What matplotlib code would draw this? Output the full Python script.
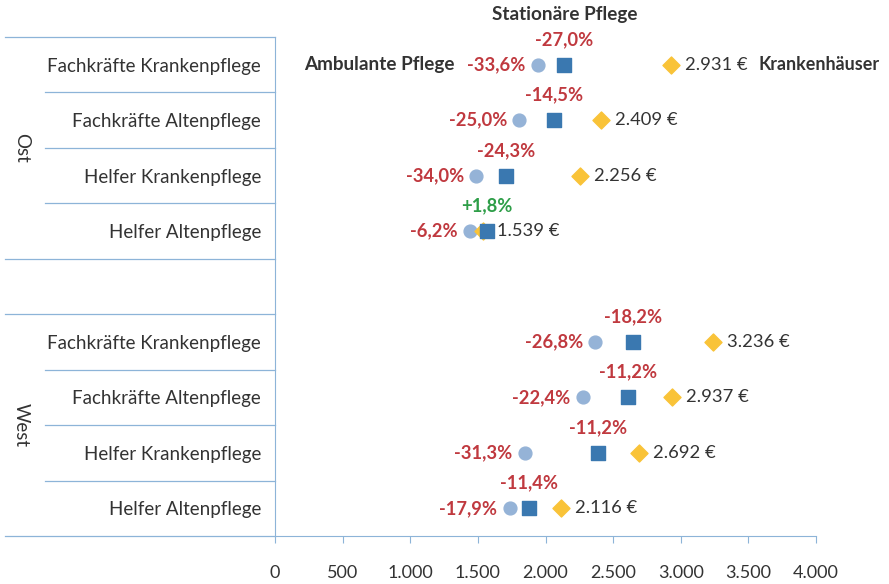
import numpy as np
import matplotlib
matplotlib.use("Agg")
import matplotlib.pyplot as plt
from matplotlib.transforms import blended_transform_factory

plt.rcParams["font.family"] = ["Lato", "DejaVu Sans"]

# Daten (Ost oben, West unten)
kategorien = ["Fachkräfte Krankenpflege", "Fachkräfte Altenpflege",
              "Helfer Krankenpflege", "Helfer Altenpflege"]
gruppen = ["Ost", "West"]
krankenhaus = [2931, 2409, 2256, 1539, 3236, 2937, 2692, 2116]
stationaer = [2140, 2060, 1708, 1567, 2647, 2608, 2390, 1875]
ambulant = [1946, 1807, 1489, 1444, 2369, 2279, 1849, 1737]
pct_stationaer = ["-27,0%", "-14,5%", "-24,3%", "+1,8%",
                  "-18,2%", "-11,2%", "-11,2%", "-11,4%"]
pct_ambulant = ["-33,6%", "-25,0%", "-34,0%", "-6,2%",
                "-26,8%", "-22,4%", "-31,3%", "-17,9%"]
xticks = [0, 500, 1000, 1500, 2000, 2500, 3000, 3500, 4000]
xticklabels = ["0", "500", "1.000", "1.500", "2.000", "2.500", "3.000", "3.500", "4.000"]

c_amb = "#95B3D7"
c_sta = "#3A78B0"
c_kh = "#F9C338"
c_rot = "#C0393F"
c_gruen = "#2E9E48"
c_text = "#333333"
c_linie = "#8DB4D8"

# Zeilenpositionen: 0-3 Ost, 4 leer, 5-8 West
ypos = [0, 1, 2, 3, 5, 6, 7, 8]

fig = plt.figure(figsize=(8.89, 5.84), dpi=100)
ax = fig.add_axes([275 / 889, 48 / 584, 541 / 889, 499 / 584])

ax.scatter(ambulant, ypos, s=85, color=c_amb, marker="o", zorder=3)
ax.scatter(krankenhaus, ypos, s=75, color=c_kh, marker="D", zorder=3)
ax.scatter(stationaer, ypos, s=100, color=c_sta, marker="s", zorder=4)

fs = 13.2
for i, y in enumerate(ypos):
    farbe = c_gruen if pct_stationaer[i].startswith("+") else c_rot
    ax.annotate(pct_stationaer[i], (stationaer[i], y), xytext=(0, 12),
                textcoords="offset points", ha="center", va="bottom",
                fontsize=fs, fontweight="bold", color=farbe)
    ax.annotate(pct_ambulant[i], (ambulant[i], y), xytext=(-9, 0),
                textcoords="offset points", ha="right", va="center",
                fontsize=fs, fontweight="bold", color=c_rot)
    wert = f"{krankenhaus[i]:,}".replace(",", ".") + " €"
    ax.annotate(wert, (krankenhaus[i], y), xytext=(10, 0),
                textcoords="offset points", ha="left", va="center",
                fontsize=fs, color=c_text)

# Serienbeschriftungen
ax.annotate("Ambulante Pflege", (ambulant[0], ypos[0]), xytext=(-60, 0),
            textcoords="offset points", ha="right", va="center",
            fontsize=13.6, fontweight="bold", color=c_text)
ax.annotate("Krankenhäuser", (krankenhaus[0], ypos[0]), xytext=(63, 0),
            textcoords="offset points", ha="left", va="center",
            fontsize=12.9, fontweight="bold", color=c_text)
ax.annotate("Stationäre Pflege", (stationaer[0], ypos[0]), xytext=(0, 30),
            textcoords="offset points", ha="center", va="bottom",
            fontsize=13.6, fontweight="bold", color=c_text)

ax.set_xlim(0, 4000)
ax.set_ylim(8.5, -0.5)
ax.set_xticks(xticks)
ax.set_xticklabels(xticklabels, fontsize=13, color=c_text)
ax.tick_params(axis="x", direction="out", length=5, pad=16, color=c_linie)
ax.set_yticks(ypos)
ax.set_yticklabels(kategorien * 2, fontsize=13.5, color=c_text)
ax.tick_params(axis="y", length=0, pad=10)

for s in ["top", "right"]:
    ax.spines[s].set_visible(False)
ax.spines["left"].set_color(c_linie)
ax.spines["bottom"].set_color(c_linie)

# Trennlinien im Beschriftungsbereich
trans = blended_transform_factory(ax.transAxes, ax.transData)
x_aussen = (5 - 275) / 541
x_innen = (45 - 275) / 541
grenzen = [-0.5, 0.5, 1.5, 2.5, 3.5, 4.5, 5.5, 6.5, 7.5, 8.5]
for g in grenzen:
    x0 = x_aussen if g in (-0.5, 3.5, 4.5, 8.5) else x_innen
    ax.plot([x0, 0], [g, g], transform=trans, color=c_linie, lw=0.9, clip_on=False)

ax.text(x_aussen + 0.03, 1.5, gruppen[0], transform=trans, rotation=270,
        ha="center", va="center", fontsize=13.5, color=c_text)
ax.text(x_aussen + 0.03, 6.5, gruppen[1], transform=trans, rotation=270,
        ha="center", va="center", fontsize=13.5, color=c_text)

fig.savefig("out.png", dpi=100, facecolor="white")
